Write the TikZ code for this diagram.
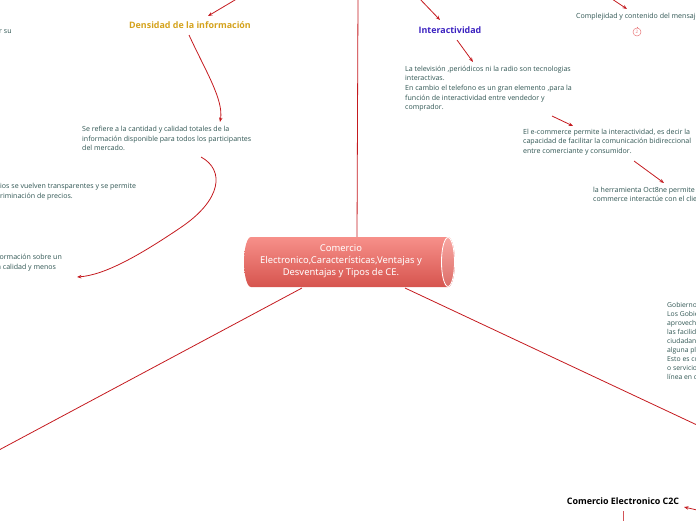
\documentclass[tikz,border=0pt]{standalone}
\usepackage{fontspec}
\setmainfont{Open Sans}
\newfontfamily\cfont{Noto Sans}
\usetikzlibrary{arrows.meta}
\definecolor{lred}{HTML}{C41A1F}
\definecolor{txt}{HTML}{2F5552}
\definecolor{gold}{HTML}{D4A21C}
\definecolor{iblue}{HTML}{3B22C0}
\definecolor{cyltop}{HTML}{F7908A}
\definecolor{cylbot}{HTML}{D6544E}
\definecolor{pinkish}{HTML}{E8777A}
\begin{document}
\begin{tikzpicture}[x=1pt,y=-1pt,
  conn/.style={draw=lred, line width=0.8pt},
  arr/.style={conn, -{Stealth[length=4.5pt,width=3.5pt]}},
  body/.style={inner sep=0pt, anchor=north west, align=left, text=txt, font=\fontsize{7.05}{9.7}\selectfont},
  title/.style={inner sep=1pt, font=\bfseries\fontsize{8.9}{10}\selectfont}]
\useasboundingbox (0,0) rectangle (696,520);
\clip (0,0) rectangle (696,520);

% central cylinder
\shade[top color=cyltop,bottom color=cylbot]
  (251,237) -- (448,237) arc[start angle=-90,end angle=90,x radius=7,y radius=25]
  -- (251,287) arc[start angle=90,end angle=270,x radius=7,y radius=25] -- cycle;
\shade[top color=cyltop!80!white,bottom color=cylbot!85!white, draw=white, line width=0.8pt]
  (448,262) ellipse[x radius=6.5,y radius=24.5];
\node[inner sep=0pt, minimum width=211pt, minimum height=50pt] (cyl) at (349.5,262) {};
\node[font=\cfont\fontsize{9.4}{12}\selectfont, text=white, align=center] (center) at (341,261)
  {Comercio\\Electronico,Características,Ventajas y\\Desventajas y Tipos de CE.};

% titles
\node[title, text=gold] (dens) at (190,25) {Densidad de la información};
\node[title, text=iblue] (inter) at (450,30) {Interactividad};
\node[title, text=black] (c2c) at (623,501) {Comercio Electronico C2C};

% body texts
\node[body] (rsu) at (-1,29) {r su};
\node[body] (dens1) at (82,126) {Se refiere a la cantidad y calidad totales de la\\información disponible para todos los participantes\\del mercado.};
\node[body] (l1) at (0,183) {ios se vuelven transparentes y se permite\\riminación de precios.};
\node[body] (l2) at (-3,254) {formación sobre un\\a calidad y menos};
\node[body] (tv) at (405,65.5) {La televisión ,periódicos ni la radio son tecnologias\\interactivas.\\En cambio el telefono es un gran elemento ,para la\\función de interactividad entre vendedor y\\comprador.};
\node[body] (ecom) at (523,128.5) {El e-commerce permite la interactividad, es decir la\\capacidad de facilitar la comunicación bidireccional\\entre comerciante y consumidor.};
\node[body] (oct) at (593,186.5) {la herramienta Oct8ne permite\\commerce interactúe con el clie};
\node[body] (comp) at (576,12.5) {Complejidad y contenido del mensaje};
\node[draw=pinkish, circle, inner sep=0pt, minimum size=8pt, line width=0.5pt,
  font=\fontsize{4.5}{4.5}\selectfont, text=pinkish] (n2) at (637,32) {2};
\node[body, font=\fontsize{6.8}{9}\selectfont] (gob) at (667,302) {Gobierno\\Los Gobie\\aprovecha\\las facilid\\ciudadan\\alguna pl\\Esto es co\\o servicio\\línea en c};

% connector end points
\coordinate (t1) at (240,-3);   \coordinate (d0) at (208,16);
\coordinate (d1) at (189,35);   \coordinate (d2) at (220,122);
\coordinate (s1) at (201,157);  \coordinate (s2) at (77,277);
\coordinate (t2) at (418,-3);   \coordinate (i0) at (440,20);
\coordinate (i1) at (457,40);   \coordinate (i2) at (473,62);
\coordinate (e1) at (552,116);  \coordinate (e2) at (573,126);
\coordinate (o1) at (634,161);  \coordinate (o2) at (664,183);
\coordinate (t3) at (612,-1);   \coordinate (m0) at (627,9);
\coordinate (up) at (358,-1);
\coordinate (dl) at (-1,450);
\coordinate (dr) at (697,425);
\coordinate (r1) at (697,510);  \coordinate (r0) at (684,507);
\coordinate (b1) at (623,511);  \coordinate (b2) at (623,521);

% connectors
\draw[conn] (cyl.north -| 357,0) -- (up);
\draw[conn] (302,288) -- (dl);
\draw[conn] (405,288) -- (dr);
\draw[arr] (t1) -- (d0);
\draw[arr] (d1) .. controls (205,70) and (224,100) .. (d2);
\draw[arr] (s1) .. controls (225,170) and (222,200) .. (180,228) .. controls (140,255) and (105,275) .. (s2);
\draw[arr] (t2) -- (i0);
\draw[arr] (i1) -- (i2);
\draw[arr] (e1) -- (e2);
\draw[arr] (o1) -- (o2);
\draw[arr] (t3) -- (m0);
\draw[arr] (r1) -- (r0);
\draw[conn, draw=lred!75] (b1) -- (b2);
\draw[draw=pinkish, line width=0.5pt] (637,26.5) -- (n2.north);
\end{tikzpicture}
\end{document}
